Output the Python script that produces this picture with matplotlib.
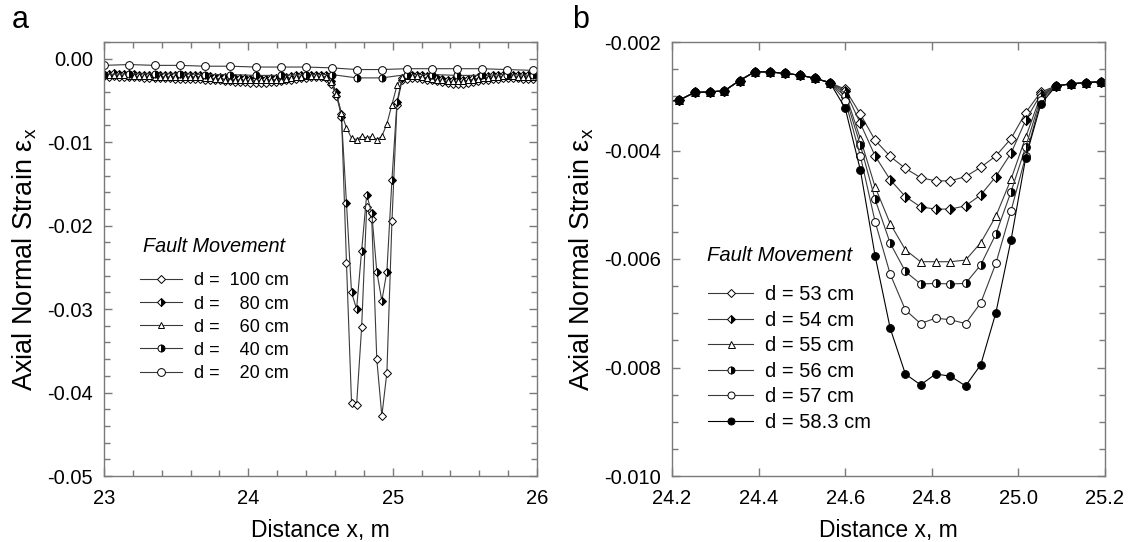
import matplotlib
matplotlib.use("Agg")
import matplotlib.pyplot as plt
from matplotlib.ticker import MultipleLocator, FuncFormatter

plt.rcParams['font.family'] = ['Liberation Sans', 'DejaVu Sans']
plt.rcParams['axes.unicode_minus'] = False
plt.rcParams['mathtext.fontset'] = 'custom'
plt.rcParams['mathtext.rm'] = 'Liberation Sans'
plt.rcParams['mathtext.it'] = 'Liberation Sans:italic'

# ---------------- Panel a data ----------------
xa_sparse = [23.000, 23.175, 23.351, 23.527, 23.700, 23.873, 24.051, 24.224, 24.400,
             24.578, 24.751, 24.924, 25.098, 25.271, 25.444, 25.617, 25.790, 25.971]
ya_20 = [-0.0008, -0.0007, -0.0008, -0.0008, -0.0009, -0.0009, -0.0010, -0.0010, -0.0010,
         -0.0011, -0.0013, -0.0013, -0.0012, -0.0012, -0.0012, -0.0012, -0.0013, -0.0014]
ya_40 = [-0.0019, -0.0018, -0.0018, -0.0018, -0.0019, -0.0019, -0.0020, -0.0020, -0.0019,
         -0.0019, -0.0023, -0.0023, -0.0019, -0.0019, -0.0020, -0.0020, -0.0019, -0.0020]

xa_dense = [23.000, 23.035, 23.070, 23.105, 23.140, 23.175, 23.210, 23.245, 23.280, 23.315,
            23.350, 23.385, 23.420, 23.455, 23.490, 23.525, 23.560, 23.595, 23.630, 23.665,
            23.700, 23.735, 23.770, 23.805, 23.840, 23.875, 23.910, 23.945, 23.980, 24.015,
            24.050, 24.085, 24.120, 24.155, 24.190, 24.225, 24.260, 24.295, 24.330, 24.365,
            24.400, 24.435, 24.470, 24.505, 24.540, 24.575, 24.610, 24.645, 24.680, 24.715,
            24.750, 24.785, 24.820, 24.855, 24.890, 24.925, 24.960, 24.995, 25.030, 25.065,
            25.100, 25.135, 25.170, 25.205, 25.240, 25.275, 25.310, 25.345, 25.380, 25.415,
            25.450, 25.485, 25.520, 25.555, 25.590, 25.625, 25.660, 25.695, 25.730, 25.765,
            25.800, 25.835, 25.870, 25.905, 25.940, 25.975]
ya_60 = [-0.0020, -0.0020, -0.0020, -0.0020, -0.0020, -0.0021, -0.0021, -0.0021, -0.0021, -0.0021,
         -0.0022, -0.0022, -0.0022, -0.0022, -0.0022, -0.0022, -0.0022, -0.0022, -0.0022, -0.0022,
         -0.0023, -0.0023, -0.0024, -0.0024, -0.0025, -0.0025, -0.0025, -0.0026, -0.0026, -0.0026,
         -0.0026, -0.0026, -0.0026, -0.0026, -0.0025, -0.0025, -0.0024, -0.0023, -0.0022, -0.0022,
         -0.0021, -0.0021, -0.0021, -0.0021, -0.0022, -0.0028, -0.0042, -0.0065, -0.0083, -0.0095,
         -0.0097, -0.0093, -0.0095, -0.0093, -0.0097, -0.0093, -0.0078, -0.0055, -0.0032, -0.0022,
         -0.0021, -0.0021, -0.0021, -0.0022, -0.0023, -0.0024, -0.0025, -0.0026, -0.0027, -0.0027,
         -0.0027, -0.0027, -0.0026, -0.0025, -0.0024, -0.0023, -0.0023, -0.0022, -0.0022, -0.0021,
         -0.0021, -0.0021, -0.0022, -0.0022, -0.0022, -0.0022]
ya_80 = [-0.0018, -0.0018, -0.0017, -0.0018, -0.0018, -0.0018, -0.0018, -0.0019, -0.0019, -0.0019,
         -0.0019, -0.0019, -0.0019, -0.0019, -0.0020, -0.0020, -0.0020, -0.0020, -0.0020, -0.0020,
         -0.0021, -0.0021, -0.0022, -0.0022, -0.0022, -0.0023, -0.0023, -0.0023, -0.0023, -0.0024,
         -0.0024, -0.0024, -0.0024, -0.0023, -0.0023, -0.0022, -0.0022, -0.0021, -0.0020, -0.0020,
         -0.0019, -0.0019, -0.0019, -0.0019, -0.0020, -0.0027, -0.0040, -0.0070, -0.0173, -0.0280,
         -0.0300, -0.0230, -0.0163, -0.0185, -0.0255, -0.0290, -0.0255, -0.0145, -0.0052, -0.0023,
         -0.0020, -0.0019, -0.0019, -0.0020, -0.0021, -0.0022, -0.0023, -0.0024, -0.0025, -0.0025,
         -0.0025, -0.0025, -0.0024, -0.0023, -0.0022, -0.0021, -0.0021, -0.0020, -0.0020, -0.0019,
         -0.0019, -0.0019, -0.0020, -0.0020, -0.0020, -0.0020]
ya_100 = [-0.0021, -0.0022, -0.0021, -0.0022, -0.0022, -0.0022, -0.0022, -0.0022, -0.0023, -0.0023,
          -0.0023, -0.0023, -0.0023, -0.0023, -0.0024, -0.0024, -0.0024, -0.0024, -0.0024, -0.0024,
          -0.0025, -0.0025, -0.0026, -0.0026, -0.0027, -0.0027, -0.0028, -0.0028, -0.0028, -0.0029,
          -0.0029, -0.0029, -0.0029, -0.0028, -0.0028, -0.0027, -0.0026, -0.0025, -0.0024, -0.0023,
          -0.0023, -0.0022, -0.0022, -0.0022, -0.0023, -0.0030, -0.0045, -0.0066, -0.0245, -0.0412,
          -0.0415, -0.0322, -0.0178, -0.0192, -0.0360, -0.0428, -0.0376, -0.0195, -0.0055, -0.0026,
          -0.0024, -0.0023, -0.0023, -0.0024, -0.0025, -0.0026, -0.0027, -0.0028, -0.0029, -0.0030,
          -0.0030, -0.0030, -0.0029, -0.0028, -0.0027, -0.0026, -0.0025, -0.0024, -0.0024, -0.0023,
          -0.0023, -0.0023, -0.0023, -0.0024, -0.0024, -0.0024]

labels_a = ['d =  100 cm', 'd =    80 cm', 'd =    60 cm', 'd =    40 cm', 'd =    20 cm']

# ---------------- Panel b data ----------------
xb_left = [24.182, 24.217, 24.252, 24.287, 24.321, 24.356, 24.391, 24.426, 24.461, 24.495, 24.530, 24.565]
yb_left = [-0.00310, -0.00307, -0.00293, -0.00292, -0.00290, -0.00271, -0.00255, -0.00255,
           -0.00258, -0.00261, -0.00267, -0.00275]
xb_dip = [24.600, 24.635, 24.669, 24.704, 24.739, 24.774, 24.809, 24.843, 24.878, 24.913,
          24.948, 24.983, 25.017, 25.052]
xb_right = [25.087, 25.122, 25.157, 25.191, 25.226]
yb_right = [-0.00281, -0.00277, -0.00275, -0.00273, -0.00272]

yb_53 = [-0.00287, -0.00333, -0.00381, -0.00411, -0.00433, -0.00450, -0.00456, -0.00456,
         -0.00448, -0.00431, -0.00410, -0.00378, -0.00330, -0.00292]
yb_54 = [-0.00290, -0.00350, -0.00410, -0.00454, -0.00485, -0.00504, -0.00508, -0.00508,
         -0.00502, -0.00482, -0.00448, -0.00405, -0.00344, -0.00296]
yb_55 = [-0.00294, -0.00378, -0.00467, -0.00535, -0.00583, -0.00605, -0.00605, -0.00605,
         -0.00602, -0.00570, -0.00521, -0.00453, -0.00375, -0.00298]
yb_56 = [-0.00300, -0.00390, -0.00490, -0.00571, -0.00623, -0.00646, -0.00645, -0.00646,
         -0.00645, -0.00611, -0.00554, -0.00476, -0.00393, -0.00302]
yb_57 = [-0.00308, -0.00410, -0.00531, -0.00628, -0.00694, -0.00719, -0.00709, -0.00712,
         -0.00719, -0.00681, -0.00608, -0.00511, -0.00410, -0.00307]
yb_583 = [-0.00322, -0.00436, -0.00594, -0.00728, -0.00812, -0.00832, -0.00812, -0.00816,
          -0.00834, -0.00795, -0.00699, -0.00565, -0.00413, -0.00314]

labels_b = ['d = 53 cm', 'd = 54 cm', 'd = 55 cm', 'd = 56 cm', 'd = 57 cm', 'd = 58.3 cm']

# ---------------- styles ----------------
LC = '#3a3a3a'
def st(kind, ms):
    base = dict(color=LC, lw=0.8, mec='black', mew=0.7, ms=ms)
    if kind == 'diamond':
        base.update(marker='D', mfc='white', ms=ms * 0.85)
    elif kind == 'halfdiamond':
        base.update(marker='D', mfc='black', mfcalt='white', fillstyle='right', ms=ms * 0.85)
    elif kind == 'triangle':
        base.update(marker='^', mfc='white')
    elif kind == 'halfcircle':
        base.update(marker='o', mfc='black', mfcalt='white', fillstyle='right')
    elif kind == 'circle':
        base.update(marker='o', mfc='white')
    elif kind == 'filled':
        base.update(marker='o', mfc='black', color='black')
    return base

def fmt(decimals):
    def f(v, pos):
        s = f"{v:.{decimals}f}"
        if float(s) == 0:
            s = s.lstrip('-')
        return s
    return FuncFormatter(f)

fig = plt.figure(figsize=(11.31, 5.42), dpi=100)
axa = fig.add_axes([104 / 1131, 1 - 476 / 542, 433 / 1131, 434 / 542])
axb = fig.add_axes([672 / 1131, 1 - 476 / 542, 433 / 1131, 434 / 542])

# Panel a
msa = 5.0
ha = []
ha.append(axa.plot(xa_dense, ya_100, label=labels_a[0], **st('diamond', msa))[0])
ha.append(axa.plot(xa_dense, ya_80, label=labels_a[1], **st('halfdiamond', msa))[0])
ha.append(axa.plot(xa_dense, ya_60, label=labels_a[2], **st('triangle', msa))[0])
ha.append(axa.plot(xa_sparse, ya_40, label=labels_a[3], **st('halfcircle', msa))[0])
ha.append(axa.plot(xa_sparse, ya_20, label=labels_a[4], **st('circle', msa + 0.6))[0])

axa.set_xlim(23, 26)
axa.set_ylim(-0.05, 0.002)
axa.xaxis.set_major_locator(MultipleLocator(1))
axa.xaxis.set_minor_locator(MultipleLocator(0.2))
axa.yaxis.set_major_locator(MultipleLocator(0.01))
axa.yaxis.set_minor_locator(MultipleLocator(0.002))
axa.yaxis.set_major_formatter(fmt(2))
axa.xaxis.set_major_formatter(fmt(0))

# Panel b
msb = 5.6
hb = []
series_b = [(yb_53, 'diamond'), (yb_54, 'halfdiamond'), (yb_55, 'triangle'),
            (yb_56, 'halfcircle'), (yb_57, 'circle'), (yb_583, 'filled')]
for (ys, kind), lab in zip(series_b, labels_b):
    xs = xb_left + xb_dip + xb_right
    yy = yb_left + ys + yb_right
    kw = st(kind, msb)
    if kind == 'diamond':
        kw['ms'] = msb * 0.9
    hb.append(axb.plot(xs, yy, label=lab, **kw)[0])

axb.set_xlim(24.2, 25.2)
axb.set_ylim(-0.010, -0.002)
axb.xaxis.set_major_locator(MultipleLocator(0.2))
axb.yaxis.set_major_locator(MultipleLocator(0.002))
axb.yaxis.set_minor_locator(MultipleLocator(0.0005))
axb.yaxis.set_major_formatter(fmt(3))
axb.xaxis.set_major_formatter(fmt(1))

for ax in (axa, axb):
    for sp in ax.spines.values():
        sp.set_color('#7a7a7a')
        sp.set_linewidth(1.0)
    ax.tick_params(which='both', direction='in', top=True, right=True, colors='#7a7a7a',
                   labelcolor='black', labelsize=14.5)
    ax.tick_params(which='major', length=6, width=1.0)
    ax.tick_params(which='minor', length=4, width=1.0)
    ax.tick_params(axis='x', pad=9)
    ax.tick_params(axis='y', pad=8)
    ax.set_xlabel('Distance x, m', fontsize=16.5, labelpad=8)
    ax.set_ylabel('Axial Normal Strain ε$_{\\rm x}$', fontsize=19.5, labelpad=6)

axb.tick_params(axis='x', which='minor', bottom=False, top=False)

# Legends (entries) + italic titles
la = axa.legend(handles=ha, loc='upper left', bbox_to_anchor=(0.063, 0.490), frameon=False,
                fontsize=13, handlelength=2.3, handletextpad=0.65,
                labelspacing=0.34, borderpad=0)
axa.text(0.090, 0.528, 'Fault Movement', transform=axa.transAxes, fontsize=14.3,
         style='italic', ha='left', va='center')

lb = axb.legend(handles=hb, loc='upper left', bbox_to_anchor=(0.060, 0.4635), frameon=False,
                fontsize=14.5, handlelength=2.25, handletextpad=0.6,
                labelspacing=0.33, borderpad=0, markerscale=0.9)
axb.text(0.081, 0.509, 'Fault Movement', transform=axb.transAxes, fontsize=14.6,
         style='italic', ha='left', va='center')

fig.text(12 / 1131, 1 - 20 / 542, 'a', fontsize=22, va='center', ha='left')
fig.text(572 / 1131, 1 - 20 / 542, 'b', fontsize=22, va='center', ha='left')

fig.savefig('out.png', dpi=100)
